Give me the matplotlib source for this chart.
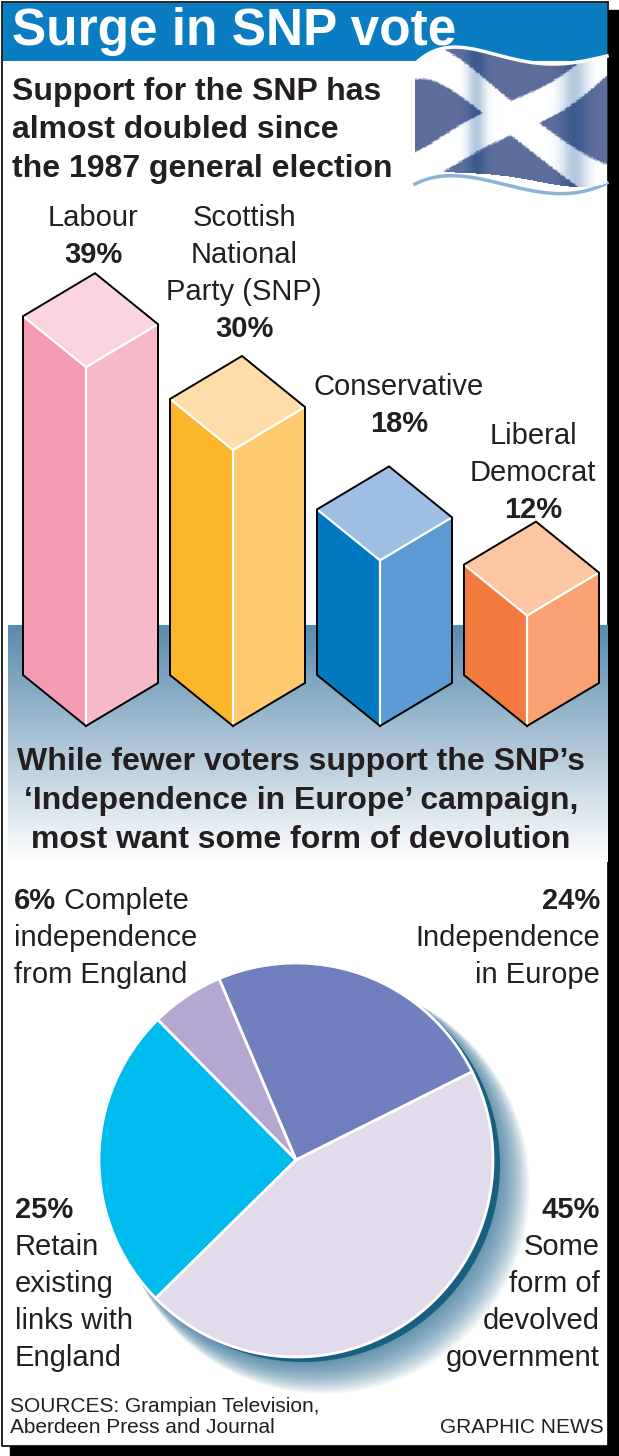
import numpy as np
import matplotlib
matplotlib.use("Agg")
import matplotlib.pyplot as plt
from matplotlib.patches import Polygon, Rectangle, Circle

plt.rcParams['font.family'] = ['Liberation Sans', 'DejaVu Sans']

# --- data ---
parties = [["Labour"], ["Scottish", "National", "Party (SNP)"],
           ["Conservative"], ["Liberal", "Democrat"]]
votes = [39, 30, 18, 12]
bar_left = ["#F39BB3", "#FBB62B", "#0079C1", "#F47B3F"]
bar_right = ["#F7B9C9", "#FDCA70", "#5B9AD2", "#F9A172"]
bar_top = ["#FAD5DF", "#FEDDA8", "#9EBFE3", "#FCC6A3"]

opinions = ["Independence in Europe", "Complete independence from England",
            "Retain existing links with England", "Some form of devolved government"]
shares = [24, 6, 25, 45]
pie_cols = ["#7080BE", "#B4A8D3", "#00BBEE", "#E1DBEC"]

INK = "#231F20"
W, H = 619, 1456

fig = plt.figure(figsize=(W / 100, H / 100), dpi=100)
ax = fig.add_axes([0, 0, 1, 1])


def txt(x, y, s, size=21, bold=False, ha='left', color=INK, z=10):
    return ax.text(x, y, s, fontsize=size, fontweight='bold' if bold else 'normal',
                   ha=ha, va='baseline', color=color, zorder=z)


# frame with drop shadow
ax.add_patch(Rectangle((10, 10), 609, 1446, color='black', zorder=0))
ax.add_patch(Rectangle((2, 2), 606, 1444, fc='white', ec='black', lw=1.2, zorder=0.5))
ax.add_patch(Rectangle((3, 3), 604, 58, fc='#0A7DC2', ec='none', zorder=1))
txt(12, 45, "Surge in SNP vote", size=37, bold=True, color='white')

# waving saltire (decoration)
u = np.linspace(0, 1, 161)
v = np.linspace(0, 1, 101)
top_edge = np.poly1d(np.polyfit([0, 0.1, 0.45, 0.7, 1.0], [65, 52, 57, 65, 57], 4))
bot_edge = np.poly1d(np.polyfit([0, 0.27, 0.6, 0.9, 1.0], [167, 173, 180, 187, 183], 4))
hem = np.poly1d(np.polyfit([0, 0.15, 0.52, 0.86, 1.0], [184, 176, 187, 192, 183], 4))
U, V = np.meshgrid(u, v)
FX = 415 + 192 * U
FY = top_edge(U) + (bot_edge(U) - top_edge(U)) * V
uc = (U[:-1, :-1] + U[1:, 1:]) / 2
vc = (V[:-1, :-1] + V[1:, 1:]) / 2
px, py = uc * 192, vc * 115
nrm = np.hypot(115, 192)
d1 = np.abs(115 * px - 192 * py) / nrm
d2 = np.abs(115 * (192 - px) - 192 * py) / nrm
white = np.clip((15.5 - np.minimum(d1, d2)) / 2.0, 0, 1)[..., None]
fold = (np.exp(-((uc - 0.32) / 0.05) ** 2) + np.exp(-((uc - 0.83) / 0.07) ** 2))[..., None]
fold = np.clip(fold, 0, 1)
base = np.array([0x5E, 0x6E, 0x9C]) / 255
dark = np.array([0x3D, 0x5A, 0x8F]) / 255
wfold = np.array([0x9F, 0xBB, 0xD6]) / 255
blue = base * (1 - fold) + dark * fold
wcol = np.ones(3) * (1 - 0.8 * fold) + wfold * 0.8 * fold
C = np.clip(blue * (1 - white) + wcol * white, 0, 1)
ax.plot(415 + 192 * u, hem(u), color='#8DB3D6', lw=2.5, zorder=2)
ax.pcolormesh(FX, FY, C, shading='flat', zorder=2.2)
ax.plot(415 + 192 * u, top_edge(u) - 1, color='white', lw=2.5, zorder=2.3)

for i, line in enumerate(["Support for the SNP has", "almost doubled since",
                          "the 1987 general election"]):
    txt(12, 100 + 38.5 * i, line, size=23, bold=True)

# gradient ground band
c0 = np.array([0x5A, 0x8B, 0xAE]) / 255
c1 = np.array([1.0, 1.0, 1.0])
g = np.linspace(0, 1, 256)[:, None, None]
ax.imshow(c0 + (c1 - c0) * g, extent=(8, 608, 862, 625), aspect='auto',
          interpolation='bilinear', zorder=1)

# isometric bars
px_per_pct = 9.2
label_x = [93, 244, 399, 533]
label_base = [263, 337, 432, 518]
for i, p in enumerate(votes):
    x0 = 23 + 147 * i
    h = p * px_per_pct
    Lb, Mb, Rb = (x0, 675), (x0 + 63, 726), (x0 + 135, 683)
    Lt, Mt, Rt = (x0, 675 - h), (x0 + 63, 726 - h), (x0 + 135, 683 - h)
    Bt = (x0 + 72, 675 - h - 43)
    ax.add_patch(Polygon([Lb, Mb, Mt, Lt], fc=bar_left[i], ec='none', zorder=3))
    ax.add_patch(Polygon([Mb, Rb, Rt, Mt], fc=bar_right[i], ec='none', zorder=3))
    ax.add_patch(Polygon([Lt, Mt, Rt, Bt], fc=bar_top[i], ec='none', zorder=3))
    ax.plot(*zip(Lt, Mt, Rt), color='white', lw=1.6, zorder=4)
    ax.plot(*zip(Mt, Mb), color='white', lw=1.6, zorder=4)
    ax.plot(*zip(Mb, Lb, Lt, Bt, Rt, Rb, Mb), color='black', lw=1.4, zorder=5,
            solid_joinstyle='miter')
    lines = parties[i] + [f"{p}%"]
    n = len(lines)
    for k, s in enumerate(lines):
        txt(label_x[i], label_base[i] - 37 * (n - 1 - k), s, size=21,
            bold=(k == n - 1), ha='center')

for i, line in enumerate(["While fewer voters support the SNP\u2019s",
                          "\u2018Independence in Europe\u2019 campaign,",
                          "most want some form of devolution"]):
    txt(301, 770 + 39 * i, line, size=23, bold=True, ha='center')

# pie with soft shadow
cx, cy, r = 296, 1160, 197
for k in range(32):
    off = 6 + k * 0.7
    ax.add_patch(Circle((cx + off, cy + off), r + k * 0.3,
                        fc='#2F7198', ec='none', alpha=0.035, zorder=2))
ax.add_patch(Circle((cx + 7, cy + 5), r, fc='#17607F', ec='none', zorder=2.5))
wedges, _ = ax.pie(shares, colors=pie_cols, startangle=-26.6, counterclock=False,
                   center=(cx, cy), radius=r,
                   wedgeprops=dict(edgecolor='white', linewidth=2))
for w_ in wedges:
    w_.set_zorder(3)

ax.set_xlim(0, W)
ax.set_ylim(H, 0)
ax.set_aspect('auto')
ax.axis('off')

# pie labels
fig.canvas.draw()
rend = fig.canvas.get_renderer()
t6 = txt(14, 909, "6%", bold=True)
bb = t6.get_window_extent(rend)
txt(14 + bb.width, 909, " Complete")
txt(14, 946, "independence")
txt(14, 983, "from England")

txt(600, 909, "24%", bold=True, ha='right')
txt(600, 946, "Independence", ha='right')
txt(600, 983, "in Europe", ha='right')

for k, s in enumerate(["25%", "Retain", "existing", "links with", "England"]):
    txt(15, 1218 + 37 * k, s, bold=(k == 0))
for k, s in enumerate(["45%", "Some", "form of", "devolved", "government"]):
    txt(600, 1218 + 37 * k, s, bold=(k == 0), ha='right')

txt(10, 1412, "SOURCES: Grampian Television,", size=15)
txt(10, 1433, "Aberdeen Press and Journal", size=15)
txt(604, 1433, "GRAPHIC NEWS", size=15, ha='right')

fig.savefig("out.png", dpi=100)
